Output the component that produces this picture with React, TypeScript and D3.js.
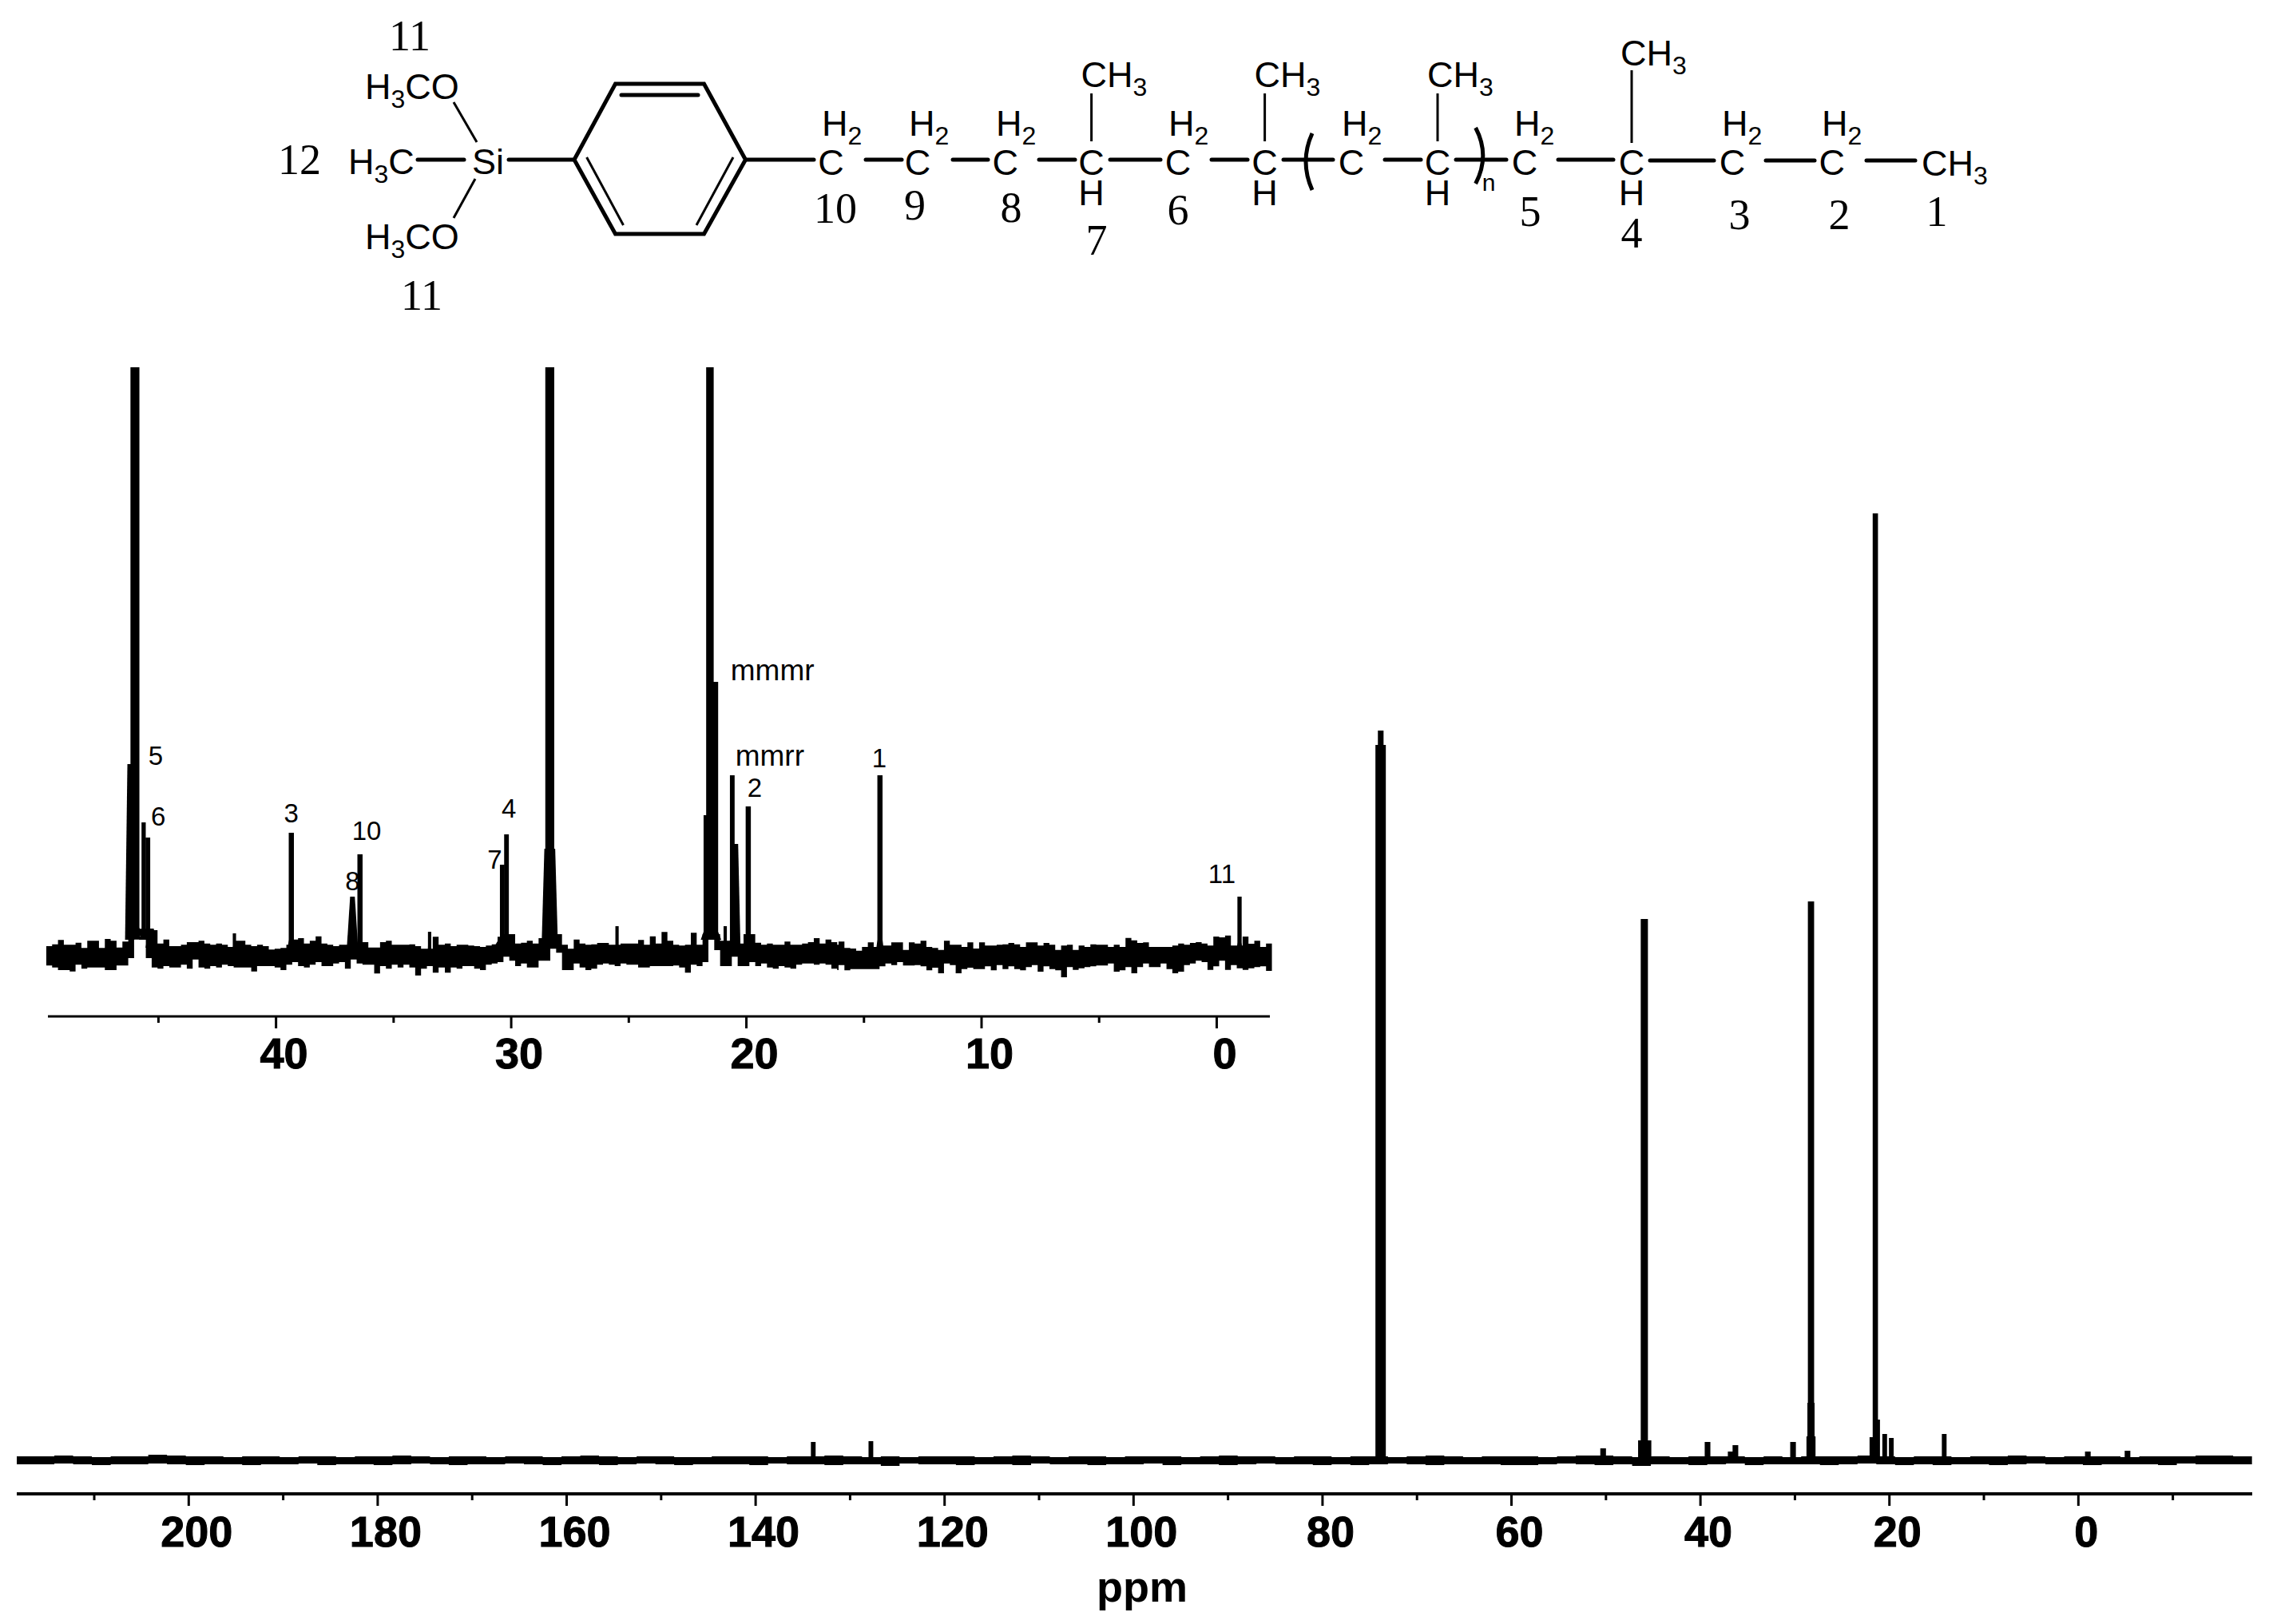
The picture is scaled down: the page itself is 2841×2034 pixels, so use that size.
import React from 'react';
import * as d3 from 'd3';

// main spectrum: peak position (ppm), height above baseline, half width of stem
const mainPeakPpm = [133.9, 127.8, 74.2, 73.84, 73.5, 50.3, 45.94, 45.9, 39.25, 36.8, 36.3, 30.2, 28.3, 28.3, 28.3, 21.49, 21.2, 21.9, 20.5, 19.8, 14.2, -1, -5.2];
const mainPeakHeight = [23, 24, 896, 914, 896, 15, 678, 25, 23, 11, 19, 23, 700, 72, 30, 1186, 51, 29, 33, 28, 33, 11, 12];
const mainPeakHalf = [0.25, 0.25, 0.2, 0.3, 0.2, 0.3, 0.38, 0.7, 0.3, 0.3, 0.3, 0.3, 0.33, 0.38, 0.48, 0.28, 0.2, 0.2, 0.25, 0.25, 0.25, 0.3, 0.3];

// main baseline noise envelope, 120 readings from 218 ppm down to -18 ppm
const mainUpper = [5, 5, 6, 5, 4, 5, 5, 7, 6, 5, 5, 4, 5, 5, 4, 5, 5, 4, 5, 5, 6, 5, 4, 5, 5, 4, 5, 5, 4, 5, 6, 5, 4, 5, 5, 4, 4, 5, 5, 5, 4, 5, 5, 6, 5, 4, 5, 4, 5, 5, 5, 4, 5, 6, 5, 4, 5, 5, 4, 5, 5, 5, 4, 5, 6, 5, 5, 4, 5, 5, 4, 5, 5, 4, 5, 6, 5, 4, 5, 5, 5, 4, 5, 6, 6, 5, 4, 5, 4, 5, 5, 5, 4, 5, 4, 5, 5, 5, 6, 5, 4, 5, 5, 4, 5, 5, 6, 5, 4, 5, 5, 5, 4, 5, 5, 5, 6, 6, 5, 5];
const mainLower = [-5, -5, -4, -5, -6, -5, -5, -4, -5, -6, -5, -5, -6, -5, -5, -4, -6, -5, -5, -6, -5, -4, -5, -6, -5, -5, -4, -5, -6, -5, -5, -6, -5, -4, -5, -6, -5, -5, -5, -6, -4, -5, -5, -6, -5, -5, -7, -4, -5, -5, -6, -5, -5, -6, -4, -5, -5, -6, -5, -5, -4, -6, -5, -5, -6, -5, -4, -5, -5, -6, -5, -6, -5, -4, -5, -6, -5, -5, -5, -6, -6, -5, -4, -5, -6, -5, -7, -5, -5, -6, -5, -4, -6, -5, -5, -5, -6, -5, -4, -5, -6, -5, -6, -5, -5, -6, -5, -4, -5, -5, -6, -5, -5, -5, -6, -4, -5, -5, -5, -5];

// inset trace envelope, read in three stretches, one reading every 0.249 ppm
const insetUpperA = [36, 43, 59, 41, 41, 49, 29, 56, 56, 29, 63, 56, 31, 53, 81, 101, 101, 101, 96, 46, 61, 36, 36, 41, 51, 51, 56, 46, 41, 46, 41, 33, 56, 56, 41, 36, 41, 36, 23, 26, 29, 41, 61, 66, 46, 56, 73, 46, 41, 36, 41, 41, 81, 46, 51, 31, 31, 51, 56, 41, 41, 41, 43, 36, 26, 26, 71, 41];
const insetLowerA = [-37, -44, -54, -54, -59, -34, -49, -44, -44, -44, -54, -54, -37, -37, -9, 61, 81, -9, -44, -49, -39, -44, -44, -34, -49, -14, -44, -49, -39, -44, -34, -39, -44, -44, -44, -59, -39, -39, -39, -44, -54, -34, -24, -39, -44, -34, -24, -39, -39, -29, -24, -49, -14, -29, -34, -34, -67, -39, -49, -34, -44, -34, -44, -74, -49, -39, -64, -44];
const insetUpperB = [46, 36, 41, 41, 38, 36, 33, 38, 43, 71, 81, 81, 46, 49, 56, 46, 66, 81, 81, 81, 41, 26, 61, 46, 41, 43, 48, 48, 41, 41, 46, 46, 46, 59, 41, 73, 46, 89, 56, 41, 38, 41, 86, 41, 81, 61, 81, 56, 56, 81, 46, 81, 81, 49, 41, 46, 41, 41, 53, 41, 41, 46, 51, 66, 46, 61, 51, 41];
const insetLowerB = [-64, -44, -49, -39, -39, -49, -54, -34, -29, -24, -4, -19, -39, -29, -44, -44, -19, -19, 26, 11, -54, -54, -29, -44, -54, -49, -34, -29, -34, -39, -29, -34, -34, -44, -44, -39, -39, -39, -39, -37, -44, -64, -34, -39, -24, 61, 21, -39, -39, -4, -39, -39, -24, -39, -29, -44, -49, -39, -44, -49, -34, -29, -29, -34, -29, -34, -49, -54];
const insetUpperC = [53, 29, 27, 19, 33, 50, 33, 38, 38, 50, 50, 22, 50, 46, 56, 33, 29, 22, 56, 41, 41, 33, 50, 27, 50, 38, 38, 41, 43, 48, 43, 33, 50, 50, 38, 48, 41, 22, 38, 41, 22, 38, 33, 43, 41, 41, 33, 41, 33, 67, 58, 48, 50, 33, 33, 33, 33, 38, 46, 41, 48, 51, 46, 38, 72, 69, 76, 38, 38, 72, 45, 56, 33, 46, 46];
const insetLowerC = [-35, -55, -50, -50, -50, -50, -50, -40, -29, -35, -24, -37, -37, -35, -40, -55, -45, -66, -29, -35, -66, -50, -45, -50, -50, -40, -55, -35, -50, -40, -50, -55, -43, -35, -60, -40, -50, -55, -81, -43, -53, -47, -43, -40, -37, -37, -29, -60, -55, -43, -66, -43, -29, -43, -43, -29, -50, -66, -60, -35, -29, -19, -24, -53, -40, -19, -53, -35, -47, -53, -47, -43, -40, -57, -57];

// inset peaks. the biggest three run off the top of the inset
const insetPeakPpm = [46.0, 46.22, 45.63, 45.45, 45.3, 41.77, 39.35, 36.75, 36.43, 33.47, 30.38, 30.2, 28.36, 28.36, 25.5, 21.7, 21.55, 21.37, 20.9, 20.6, 20.45, 19.92, 14.32, -0.97];
const insetPeakTop = [2400, 720, 501, 444, 102, 84, 462, 222, 381, 90, 342, 456, 2400, 402, 111, 528, 2400, 1029, 111, 678, 420, 561, 678, 222];
const insetPeakFoot = [75, 60, 60, 60, 30, 10, 30, 30, 20, 10, 40, 30, 60, 60, 10, 60, 60, 60, 10, 30, 30, 30, 30, 20];
const insetPeakHalf = [0.19, 0.1, 0.09, 0.1, 0.1, 0.07, 0.11, 0.1, 0.11, 0.07, 0.1, 0.1, 0.19, 0.23, 0.07, 0.12, 0.16, 0.17, 0.07, 0.1, 0.1, 0.11, 0.11, 0.09];
const insetPeakBase = [0.35, 0.2, 0.2, 0.25, 0.25, 0.08, 0.15, 0.24, 0.16, 0.08, 0.3, 0.15, 0.3, 0.34, 0.08, 0.24, 0.3, 0.3, 0.08, 0.15, 0.2, 0.16, 0.15, 0.12];
// peaks whose sides slope all the way up instead of standing as a stem
const insetPeakSkirt = [false, true, false, false, true, false, false, true, false, false, false, false, false, true, false, false, false, false, false, false, true, false, false, false];

const mainMajor = [200, 180, 160, 140, 120, 100, 80, 60, 40, 20, 0];
const mainMinor = [210, 190, 170, 150, 130, 110, 90, 70, 50, 30, 10, -10];
const insetMajor = [40, 30, 20, 10, 0];
const insetMinor = [45, 35, 25, 15, 5];

// peak assignments on the inset: label, x in ppm, height
const insetLabels: [string, number, number][] = [
  ['5', 45.12, 717], ['6', 45.01, 489], ['3', 39.35, 501], ['10', 36.15, 435], ['8', 36.75, 246],
  ['4', 30.1, 519], ['7', 30.7, 327], ['mmmr', 20.67, 1035], ['mmrr', 20.47, 714], ['2', 19.65, 598],
  ['1', 14.35, 708], ['11', -0.22, 273],
];

const mainX = d3.scaleLinear().domain([218.2, -18.4]).range([21, 2820]);
const mainY = d3.scaleLinear().domain([0, 1186]).range([1829, 643]);
const insetX = d3.scaleLinear().domain([49.7, -2.26]).range([60, 1590]);
const insetY = d3.scaleLinear().domain([0, 2211]).range([1197, 460]);

const SANS = '"Liberation Sans", Arial, sans-serif';
const SERIF = '"Liberation Serif", "Times New Roman", serif';

type Env = { ppm: number; up: number; low: number };

function envelope(start: number, step: number, up: number[], low: number[]): Env[] {
  return up.map((u, i) => ({ ppm: start - i * step, up: u, low: low[i] }));
}

const mainEnv = envelope(218.2, 1.988, mainUpper, mainLower);
const insetEnv = [
  ...envelope(49.77, 0.249, insetUpperA, insetLowerA),
  ...envelope(32.82, 0.249, insetUpperB, insetLowerB),
  ...envelope(16.08, 0.249, insetUpperC, insetLowerC),
];

function bandPath(env: Env[], x: any, y: any) {
  return d3.area<Env>()
    .x((d) => x(d.ppm))
    .y0((d) => y(d.low))
    .y1((d) => y(d.up))
    .curve(d3.curveStepAfter)(env) as string;
}

function peakPath(ppm: number, top: number, foot: number, half: number, base: number, knee: number, x: any, y: any) {
  const pts: [number, number][] = [
    [x(ppm + base), y(foot)],
    [x(ppm + half), y(foot + knee)],
    [x(ppm + half), y(top)],
    [x(ppm - half), y(top)],
    [x(ppm - half), y(foot + knee)],
    [x(ppm - base), y(foot)],
  ];
  return d3.line()(pts) + 'Z';
}

function Axis({ x, y, major, minor, from, to, width }: any) {
  return (
    <g stroke="#000">
      <line x1={from} x2={to} y1={y} y2={y} strokeWidth={width} />
      {major.map((t: number) => <line key={t} x1={x(t)} x2={x(t)} y1={y} y2={y + 15} strokeWidth={3} />)}
      {minor.map((t: number) => <line key={t} x1={x(t)} x2={x(t)} y1={y} y2={y + 8} strokeWidth={3} />)}
      {major.map((t: number) => (
        <text key={t} x={x(t) + 10} y={y + (width > 3 ? 66 : 65)} textAnchor="middle" strokeWidth={1}
          fontFamily={SANS} fontWeight="bold" fontSize={54}>{t}</text>
      ))}
    </g>
  );
}

// chemical formula pieces ---------------------------------------------------
function Chem({ x, y, parts, anchor }: { x: number; y: number; parts: [string, boolean][]; anchor?: string }) {
  return (
    <text x={x} y={y} fontFamily={SANS} fontSize={45} textAnchor={anchor || 'start'}>
      {parts.map(([s, sub], i) => (
        <tspan key={i} fontSize={sub ? 32 : 45} dy={sub ? 11 : (i > 0 && parts[i - 1][1] ? -11 : 0)}>{s}</tspan>
      ))}
    </text>
  );
}

const thick: number[][] = [
  [523, 581], [637, 719], [935, 1019], [1084, 1129], [1193, 1237], [1301, 1346], [1390, 1453],
  [1517, 1562], [1607, 1669], [1734, 1779], [1823, 1886], [1951, 2020],
];
const thickLow: number[][] = [[2066, 2146], [2211, 2272], [2337, 2398]];
const carbons = [1040.6, 1149, 1258.7, 1366.6, 1475, 1583.6, 1692, 1800, 1909, 2043, 2169, 2293.7];
const h2s = [1029, 1138, 1247, 1463, 1680, 1896, 2156, 2281];
const hBelow = [1366.6, 1583.6, 1800, 2043];
const methyls = [1366.6, 1583.6, 1800];
const atomNumbers: [string, number, number][] = [
  ['10', 1046, 279], ['9', 1145.5, 275], ['8', 1266, 278], ['7', 1373, 319], ['6', 1475, 281],
  ['5', 1916, 283], ['4', 2043, 310], ['3', 2178, 287], ['2', 2303, 287], ['1', 2425, 283],
  ['11', 513, 63], ['12', 375, 218], ['11', 528, 388],
];

function Structure() {
  const ring = d3.line()([[719, 200], [770.5, 105], [881.5, 105], [933.5, 200], [881.5, 293], [770.5, 293]]) + 'Z';
  return (
    <g>
      <path d={ring} fill="none" stroke="#000" strokeWidth={5} />
      <g stroke="#000" strokeWidth={5} strokeLinecap="round">
        {thick.map(([a, b]) => <line key={a} x1={a} x2={b} y1={200} y2={200} />)}
        {thickLow.map(([a, b]) => <line key={a} x1={a} x2={b} y1={201} y2={201} />)}
        <line x1={778} x2={874} y1={119} y2={119} />
      </g>
      <g stroke="#000" strokeWidth={3}>
        <line x1={734.6} y1={197} x2={780.5} y2={282} />
        <line x1={918} y1={197} x2={872} y2={282} />
        <line x1={568} y1={128} x2={597} y2={178} />
        <line x1={595} y1={224} x2={568} y2={273} />
        {methyls.map((x) => <line key={x} x1={x} x2={x} y1={117} y2={177} />)}
        <line x1={2043} x2={2043} y1={88} y2={179} />
      </g>
      <path d="M1643 167Q1627 202 1643 238M1847.6 160Q1866 195 1847.6 230" fill="none" stroke="#000" strokeWidth={5} />

      <Chem x={457} y={124} parts={[['H', false], ['3', true], ['CO', false]]} />
      <Chem x={457} y={312} parts={[['H', false], ['3', true], ['CO', false]]} />
      <Chem x={436} y={218} parts={[['H', false], ['3', true], ['C', false]]} />
      <Chem x={591} y={218} parts={[['Si', false]]} />
      {carbons.map((x) => <Chem key={x} x={x} y={219} anchor="middle" parts={[['C', false]]} />)}
      {h2s.map((x) => <Chem key={x} x={x} y={170} parts={[['H', false], ['2', true]]} />)}
      {hBelow.map((x) => <Chem key={x} x={x} y={257} anchor="middle" parts={[['H', false]]} />)}
      {methyls.map((x) => <Chem key={x} x={x - 13} y={109} parts={[['CH', false], ['3', true]]} />)}
      <Chem x={2029} y={82} parts={[['CH', false], ['3', true]]} />
      <Chem x={2406} y={220} parts={[['CH', false], ['3', true]]} />
      <text x={1864} y={239} fontFamily={SANS} fontSize={30} textAnchor="middle">n</text>
      {atomNumbers.map(([s, x, y], i) => (
        <text key={i} x={x} y={y} fontFamily={SERIF} fontSize={54} textAnchor="middle">{s}</text>
      ))}
    </g>
  );
}

export default function App() {
  return (
    <svg width={2841} height={2034} viewBox="0 0 2841 2034"
      style={{ position: 'absolute', left: 0, top: 0, display: 'block', background: '#fff' }}>
      <defs>
        <clipPath id="inset-clip"><rect x={50} y={460} width={1550} height={790} /></clipPath>
      </defs>

      <Structure />

      {/* inset, 50 to -2 ppm */}
      <g clipPath="url(#inset-clip)">
        <path d={bandPath(insetEnv, insetX, insetY)} fill="#000" />
        {insetPeakPpm.map((p, i) => (
          <path key={i} fill="#000"
            d={peakPath(p, insetPeakTop[i], insetPeakFoot[i], insetPeakHalf[i], insetPeakBase[i],
              insetPeakSkirt[i] ? insetPeakTop[i] - insetPeakFoot[i] : 30, insetX, insetY)} />
        ))}
      </g>
      <Axis x={insetX} y={1273} major={insetMajor} minor={insetMinor} from={60} to={1590} width={3} />
      {insetLabels.map(([s, p, h]) => (
        <text key={s} x={insetX(p)} y={insetY(h)} fontFamily={SANS} fontSize={s.startsWith('mm') ? 37 : 33}
          textAnchor={s.startsWith('mm') ? 'start' : 'middle'}>{s}</text>
      ))}

      {/* full spectrum */}
      <path d={bandPath(mainEnv, mainX, mainY)} fill="#000" />
      {mainPeakPpm.map((p, i) => (
        <path key={i} fill="#000"
          d={peakPath(p, mainPeakHeight[i], 0, mainPeakHalf[i], mainPeakHalf[i] + 0.1, 2, mainX, mainY)} />
      ))}
      <Axis x={mainX} y={1871} major={mainMajor} minor={mainMinor} from={21} to={2820} width={4} />
      <text x={1430} y={2006} textAnchor="middle" fontFamily={SANS} fontWeight="bold" fontSize={54}>ppm</text>
    </svg>
  );
}
